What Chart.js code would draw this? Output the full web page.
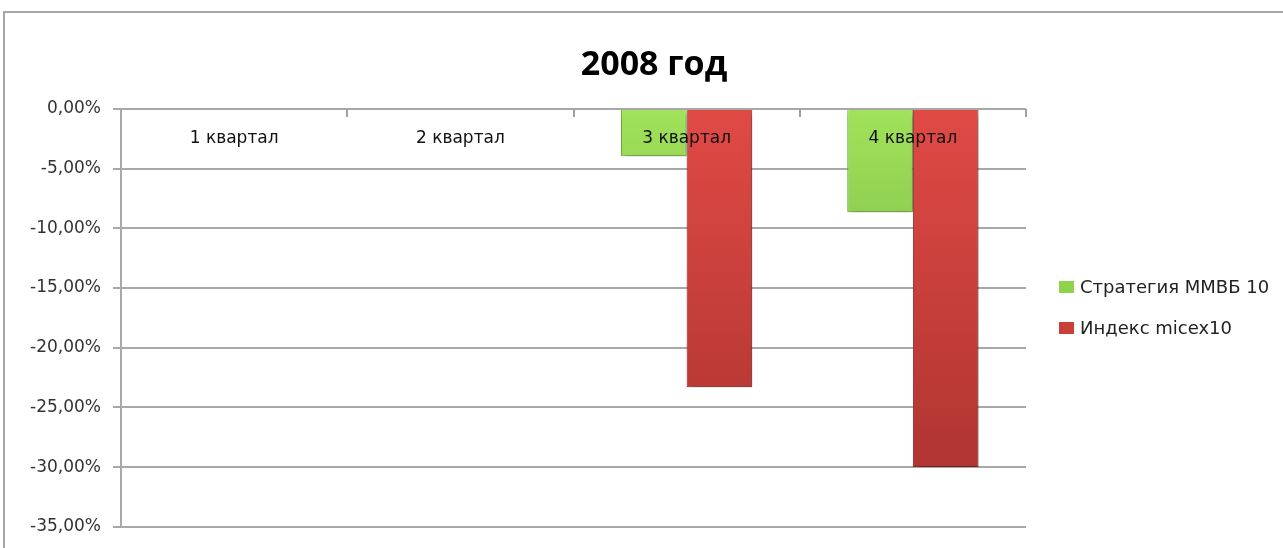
<!DOCTYPE html>
<html>
<head>
<meta charset="utf-8">
<script src="https://cdn.jsdelivr.net/npm/chart.js@4"></script>
<style>
  html, body { margin: 0; padding: 0; background: #fff; overflow: hidden; }
  #frame {
    position: absolute; left: 3px; top: 11px;
    width: 1290px; height: 550px;
    border-top: 2px solid #a6a6a6; border-left: 2px solid #a6a6a6;
  }
  #wrap { position: absolute; left: 0; top: 0; width: 1279px; height: 536px; }
</style>
</head>
<body>
<div id="frame"><div id="wrap"><canvas id="chart"></canvas></div></div>
<script>
// данные
const kvartaly = ['1 квартал', '2 квартал', '3 квартал', '4 квартал'];
const strategiya = [null, null, -3.95, -8.65];
const micex = [null, null, -23.3, -30.0];
const nazvaniyaRyadov = ['Стратегия ММВБ 10', 'Индекс micex10'];
const zagolovok = '2008 год';
const yMin = -35, yMax = 0, yShag = 5;

const shrift = 'DejaVu Sans';
const formatProc = (v) => v.toFixed(2).replace('.', ',') + '%';

function gradient(verh, niz, fallback) {
    return (c) => {
        const area = c.chart.chartArea;
        if (!area) return fallback;
        const g = c.chart.ctx.createLinearGradient(0, area.top, 0, area.bottom);
        g.addColorStop(0, verh);
        g.addColorStop(1, niz);
        return g;
    };
}

// тень под столбиками
const tenPlugin = {
    id: 'ten',
    beforeDatasetsDraw(chart) {
        const ctx = chart.ctx;
        ctx.save();
        ctx.shadowColor = 'rgba(0,0,0,0.4)';
        ctx.shadowBlur = 7;
        ctx.shadowOffsetX = 2;
        ctx.shadowOffsetY = 3;
    },
    afterDatasetsDraw(chart) {
        chart.ctx.restore();
    }
};

// заголовок по центру всей области, подписи категорий у нулевой линии, засечки оси X и легенда справа
const podpisiPlugin = {
    id: 'podpisi',
    afterDatasetsDraw(chart) {
        const ctx = chart.ctx;
        const x = chart.scales.x, y = chart.scales.y;
        const y0 = y.getPixelForValue(0);
        ctx.save();
        // заголовок
        ctx.fillStyle = '#000';
        ctx.font = 'bold 34px "Open Sans"';
        ctx.textAlign = 'center';
        ctx.textBaseline = 'middle';
        ctx.fillText(zagolovok, 649, 52);
        // засечки
        ctx.strokeStyle = '#a0a0a0';
        ctx.lineWidth = 2;
        for (let i = 1; i <= kvartaly.length; i++) {
            const px = Math.round(x.left + (x.right - x.left) * i / kvartaly.length);
            ctx.beginPath();
            ctx.moveTo(px, y0);
            ctx.lineTo(px, y0 + 8);
            ctx.stroke();
        }
        // подписи
        ctx.fillStyle = '#111';
        ctx.font = '17px "' + shrift + '"';
        kvartaly.forEach((k, i) => {
            ctx.fillText(k, x.getPixelForTick(i), y0 + 30);
        });
        // легенда
        const cveta = ['#8fd24c', '#c9403b'];
        ctx.textAlign = 'left';
        ctx.font = '18px "' + shrift + '"';
        nazvaniyaRyadov.forEach((n, i) => {
            const cy = 274 + i * 41;
            ctx.fillStyle = cveta[i];
            ctx.fillRect(1054, cy - 6, 15, 12);
            ctx.fillStyle = '#222';
            ctx.fillText(n, 1075, cy + 1);
        });
        ctx.restore();
    }
};

new Chart('chart', {
    type: 'bar',
    data: {
        labels: kvartaly,
        datasets: [{
            label: nazvaniyaRyadov[0],
            data: strategiya,
            backgroundColor: gradient('#a1e25b', '#5f9a30', '#92d050'),
            borderColor: '#7ab83f',
            borderWidth: 1,
            categoryPercentage: 0.58,
            barPercentage: 1
        }, {
            label: nazvaniyaRyadov[1],
            data: micex,
            backgroundColor: gradient('#e04a45', '#a8312e', '#c0504d'),
            borderColor: '#9a2e2b',
            borderWidth: 1,
            categoryPercentage: 0.58,
            barPercentage: 1
        }]
    },
    options: {
        responsive: true,
        maintainAspectRatio: false,
        animation: false,
        layout: { padding: { left: 0, right: 258, top: 96, bottom: 15 } },
        plugins: {
            legend: { display: false },
            tooltip: { enabled: false },
            title: { display: false }
        },
        scales: {
            x: { display: false },
            y: {
                min: yMin,
                max: yMax,
                afterFit: (s) => { s.width = 116; },
                ticks: {
                    stepSize: yShag,
                    color: '#333',
                    padding: 12,
                    font: { family: shrift, size: 17 },
                    callback: (v) => formatProc(v)
                },
                grid: { color: '#a8a8a8', lineWidth: 2, tickLength: 8 },
                border: { color: '#a8a8a8', width: 2 }
            }
        }
    },
    plugins: [tenPlugin, podpisiPlugin]
});
</script>
</body>
</html>
